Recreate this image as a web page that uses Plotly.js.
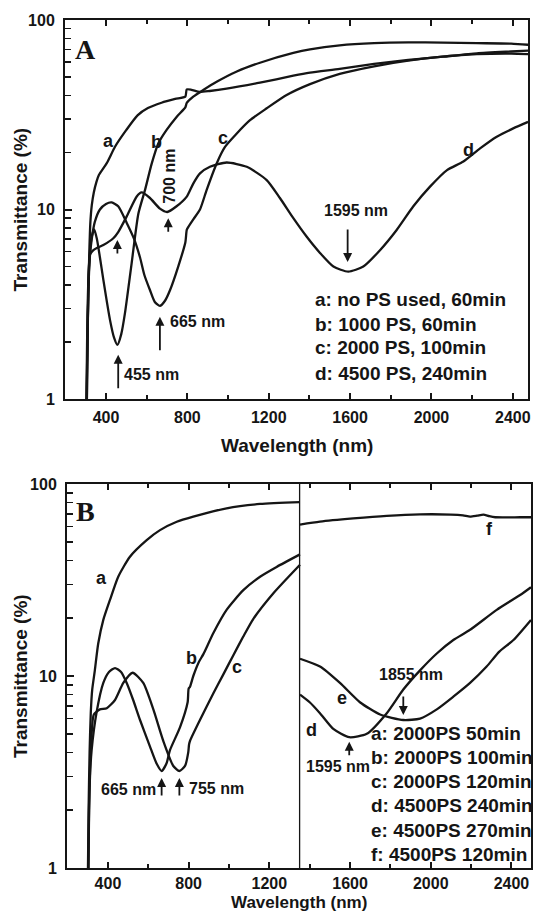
<!DOCTYPE html>
<html><head><meta charset="utf-8">
<script src="https://cdn.plot.ly/plotly-3.0.1.min.js"></script>
<style>html,body{margin:0;padding:0;background:#fff;} #chart{width:533px;height:914px;}</style>
</head><body><div id="chart"></div>
<script>
// ---------- Panel A data (wavelength nm, transmittance %) ----------
const wlA_a = [303,306,309,313,318,323,330,340,353,365,403,445,500,555,606,673,740,790,797,820,860,910,993,1157,1321,1403,1549,1718,1886,2055,2223,2392,2475];
const tA_a  = [0.8,1.3,2,3.5,6,8.5,10.5,12.3,14,15.2,17.5,21.5,26.3,31.4,34.3,36.6,38.3,39.4,43,42.8,41.7,42.2,43.4,46.7,50.8,52.7,55.2,58.6,61.5,64,66.7,68.2,68.9];

const wlA_b = [305,309,313,320,330,342,355,370,387,420,440,456,475,493,526,559,592,625,657,698,748,790,797,829,878,944,1043,1157,1321,1403,1549,1718,1886,2055,2223,2392,2475];
const tA_b  = [0.8,2,3.8,5.8,7.2,7.85,7,5.6,4.25,2.6,2.1,1.93,2.2,2.83,5.2,9.5,12.7,17.5,22.3,26.3,30.9,34.6,36.5,39.4,42.7,47.2,53.5,59.5,67,70,73.5,75.5,76.2,76,75.5,75,74];

const wlA_c = [305,309,313,320,330,345,370,400,428,460,502,538,567,589,616,640,665,690,715,755,790,797,805,830,862,895,944,985,1043,1108,1190,1288,1403,1549,1718,1886,2055,2223,2392,2475];
const tA_c  = [0.8,2,3.6,5.5,7.0,8.6,10,10.7,10.9,10.4,8.5,7,5.6,4.5,3.76,3.25,3.1,3.3,3.76,5,6.7,7.8,8.1,8.9,10,12.7,17.5,21.4,25.2,29.6,34.2,40.2,45.9,52,57,61,64,66,66.5,66];

const wlA_d = [303,307,311,316,322,338,360,387,436,460,502,551,575,616,665,701,747,797,829,862,911,993,1092,1190,1255,1321,1386,1452,1518,1591,1665,1747,1829,1911,1993,2075,2157,2239,2321,2402,2475];
const tA_d  = [0.8,2,3.5,5,5.8,6.1,6.3,6.5,7.05,7.6,9.2,11.7,12.3,11.5,10.1,9.7,10.4,11.7,13.7,15.5,16.8,17.7,16.8,14.3,11.5,9.0,7.2,5.9,5.0,4.7,5.0,6.1,7.8,10.4,13.2,16.1,17.9,21,24.2,26.8,29];

// ---------- Panel B data ----------
const wlB_a = [300,304,309,315,322,335,352,377,410,451,509,592,658,741,823,988,1154,1352];
const tB_a  = [0.8,2,4,6.5,8.5,10.7,14.8,19.6,24.9,32.9,41.8,51,57.5,63.6,67.6,74.7,78.7,80.5];

const wlB_b = [302,306,311,319,344,377,405,435,465,493,525,559,608,641,666,690,707,757,795,800,807,823,850,873,922,988,1071,1154,1236,1352];
const tB_b  = [0.8,1.8,3,4.1,6.5,9.2,10.5,11,10.5,9.2,7.5,5.9,4.3,3.5,3.2,3.5,4.1,5.4,7.3,8.6,8.8,10,11.8,13,16.7,22.1,28,32.9,37,43];

const wlB_c = [302,306,312,319,330,360,394,435,476,522,575,625,674,724,754,782,798,802,807,856,922,972,1021,1070,1120,1220,1352];
const tB_c  = [0.8,2,3.5,5,6.3,6.7,6.8,7.5,9.2,10.4,9.2,6.7,4.6,3.4,3.2,3.4,4.0,4.4,4.6,5.9,8.1,10.2,12.8,16,19.8,27,38];

const wlB_d = [1352,1400,1451,1517,1596,1683,1782,1864,1947,2030,2112,2195,2327,2443,2497];
const tB_d  = [8.0,7.3,6.4,5.3,4.8,5.0,6.4,8.5,10.7,13.1,15.4,17.4,22.1,26.4,29];

const wlB_e = [1352,1451,1550,1649,1749,1864,1947,2030,2112,2195,2277,2340,2410,2497];
const tB_e  = [12.3,11.2,9.2,7.3,6.3,5.9,6.0,6.7,7.8,9.2,11.2,13.4,15.4,19.6];

const wlB_f = [1352,1451,1616,1782,1947,2100,2160,2195,2230,2261,2290,2320,2443,2497];
const tB_f  = [61.5,63.7,66.2,68.3,69.5,69.3,68.6,67.6,68.4,69.3,68,67.1,67.1,67.1];

// ---------- ticks & labels ----------
const xTicks = [400,800,1200,1600,2000,2400];
const xMinor = [600,1000,1400,1800,2200];
const yTicks = [1,10,100];
const yTickText = ['1','10','100'];
const yMinor = [2,3,4,5,6,7,8,9,20,30,40,50,60,70,80,90];
const legendA = ['a: no PS used, 60min','b: 1000 PS, 60min','c: 2000 PS, 100min','d: 4500 PS, 240min'];
const legendB = ['a: 2000PS 50min','b: 2000PS 100min','c: 2000PS 120min','d: 4500PS 240min','e: 4500PS 270min','f: 4500PS 120min'];
const xTitle = 'Wavelength (nm)';
const yTitle = 'Transmittance (%)';

const FF = 'Arial, "Liberation Sans", Helvetica, sans-serif';
const INK = '#151515';
const lineStyle = {color: INK, width: 2.3, shape: 'spline', smoothing: 0.6};

function tr(x, y, xa, ya) {
  return {x: x, y: y, xaxis: xa, yaxis: ya, type: 'scatter', mode: 'lines',
          line: lineStyle, hoverinfo: 'skip', showlegend: false};
}
const data = [
  tr(wlA_a, tA_a, 'x', 'y'), tr(wlA_b, tA_b, 'x', 'y'), tr(wlA_c, tA_c, 'x', 'y'), tr(wlA_d, tA_d, 'x', 'y'),
  tr(wlB_a, tB_a, 'x2', 'y2'), tr(wlB_b, tB_b, 'x2', 'y2'), tr(wlB_c, tB_c, 'x2', 'y2'),
  tr(wlB_d, tB_d, 'x2', 'y2'), tr(wlB_e, tB_e, 'x2', 'y2'), tr(wlB_f, tB_f, 'x2', 'y2')
];

const W = 533, H = 914;
const tickFont = {family: FF, size: 16, color: INK, weight: 'bold'};
function xax(dom, rng, anchor, standoff) {
  return {domain: dom, range: rng, anchor: anchor, tickmode: 'array', tickvals: xTicks,
    ticks: 'inside', ticklen: 6, tickwidth: 2, tickcolor: INK,
    showline: true, linewidth: 2, linecolor: INK, mirror: 'ticks',
    minor: {tickmode: 'array', tickvals: xMinor, ticks: 'inside', ticklen: 4, tickwidth: 2, tickcolor: INK},
    showgrid: false, zeroline: false, tickfont: tickFont, ticklabelstandoff: standoff, fixedrange: true};
}
function yax(dom, anchor) {
  return {domain: dom, type: 'log', range: [0, 2], anchor: anchor, tickmode: 'array',
    tickvals: yTicks, ticktext: yTickText,
    ticks: 'inside', ticklen: 7, tickwidth: 2, tickcolor: INK,
    showline: true, linewidth: 2, linecolor: INK, mirror: true,
    minor: {tickmode: 'array', tickvals: yMinor, ticks: 'inside', ticklen: 6, tickwidth: 1.6, tickcolor: INK},
    showgrid: false, zeroline: false, tickfont: tickFont, ticklabelstandoff: 5, fixedrange: true};
}

const ann = [];
const L = Math.log10;
function txt(xref, yref, x, yv, text, size, opts) {
  ann.push(Object.assign({xref: xref, yref: yref, x: x, y: L(yv), text: text, showarrow: false,
    xanchor: 'center', yanchor: 'middle',
    font: {family: FF, size: size, color: INK, weight: 'bold'}}, opts || {}));
}
function arrow(xref, yref, x, yv, ay) {
  ann.push({xref: xref, yref: yref, x: x, y: L(yv), text: '', showarrow: true, ax: 0, ay: ay,
    arrowhead: 2, arrowsize: 1, arrowwidth: 1.8, arrowcolor: INK, standoff: 0, startstandoff: 0});
}
// Panel A labels
ann.push({xref: 'x', yref: 'y', x: 299, y: 1.844, text: 'A', showarrow: false, xanchor: 'center', yanchor: 'middle',
  font: {family: '"Liberation Serif", "Times New Roman", serif', size: 28, color: INK, weight: 'bold'}});
txt('x', 'y', 411, 23.1, 'a', 18);
txt('x', 'y', 649, 22.8, 'b', 18);
txt('x', 'y', 977, 23.8, 'c', 18);
txt('x', 'y', 2181, 20.6, 'd', 18);
txt('x', 'y', 715, 14.9, '700 nm', 16, {textangle: -90});
arrow('x', 'y', 706, 9.0, 15);
arrow('x', 'y', 456, 6.9, 15);
txt('x', 'y', 850, 2.58, '665 nm', 16);
arrow('x', 'y', 665, 2.72, 35);
txt('x', 'y', 624, 1.355, '455 nm', 16);
arrow('x', 'y', 460, 1.71, 35);
txt('x', 'y', 1627, 9.82, '1595 nm', 16);
arrow('x', 'y', 1588, 5.28, -34);
const legAy = [3.37, 2.46, 1.86, 1.37];
legendA.forEach((s, i) => txt('x', 'y', 1418, legAy[i], s, 19, {xanchor: 'left'}));

// Panel B labels
ann.push({xref: 'x2', yref: 'y2', x: 291, y: 1.859, text: 'B', showarrow: false, xanchor: 'center', yanchor: 'middle',
  font: {family: '"Liberation Serif", "Times New Roman", serif', size: 28, color: INK, weight: 'bold'}});
txt('x2', 'y2', 369, 32.3, 'a', 18);
txt('x2', 'y2', 816, 12.4, 'b', 18);
txt('x2', 'y2', 1038, 11.2, 'c', 18);
txt('x2', 'y2', 1410, 5.24, 'd', 18);
txt('x2', 'y2', 1559, 7.66, 'e', 18);
txt('x2', 'y2', 2290, 58.1, 'f', 18);
txt('x2', 'y2', 648, 2.55, '665 nm', 16, {xanchor: 'right'});
arrow('x2', 'y2', 666, 2.94, 19);
txt('x2', 'y2', 790, 2.61, '755 nm', 16, {xanchor: 'left'});
arrow('x2', 'y2', 754, 2.94, 19);
txt('x2', 'y2', 1902, 10.2, '1855 nm', 16);
arrow('x2', 'y2', 1864, 6.27, -20);
txt('x2', 'y2', 1540, 3.36, '1595 nm', 16);
arrow('x2', 'y2', 1596, 4.55, 15);
const legBy = [5.04, 3.78, 2.82, 2.11, 1.56, 1.17];
legendB.forEach((s, i) => txt('x2', 'y2', 1695, legBy[i], s, 19, {xanchor: 'left'}));

// Axis titles (paper coordinates)
const titleFont = {family: FF, size: 19, color: INK, weight: 'bold'};
function ptitle(px, py, text, angle, size) {
  ann.push({xref: 'paper', yref: 'paper', x: px / W, y: 1 - py / H, text: text, textangle: angle,
    xanchor: 'center', yanchor: 'middle', showarrow: false, borderpad: 0,
    font: Object.assign({}, titleFont, size ? {size: size} : {})});
}
ptitle(20, 209.5, yTitle, -90);
ptitle(20, 676, yTitle, -90);
ptitle(296.5, 445, xTitle, 0);
ptitle(299, 902.5, xTitle, 0, 17);

const layout = {
  width: W, height: H, margin: {l: 0, r: 0, t: 0, b: 0},
  paper_bgcolor: '#fff', plot_bgcolor: '#fff', showlegend: false,
  xaxis: xax([65 / W, 528 / W], [198.4, 2474.7], 'y', 3),
  yaxis: yax([1 - 399 / H, 1 - 20 / H], 'x'),
  xaxis2: xax([67 / W, 531 / W], [197, 2497], 'y2', 0),
  yaxis2: yax([1 - 868 / H, 1 - 484 / H], 'x2'),
  shapes: [{type: 'line', xref: 'x2', yref: 'y2 domain', x0: 1350, x1: 1350, y0: 0, y1: 1,
            line: {color: INK, width: 1.3}}],
  annotations: ann
};
Plotly.newPlot('chart', data, layout, {displayModeBar: false, staticPlot: true});
</script></body></html>
